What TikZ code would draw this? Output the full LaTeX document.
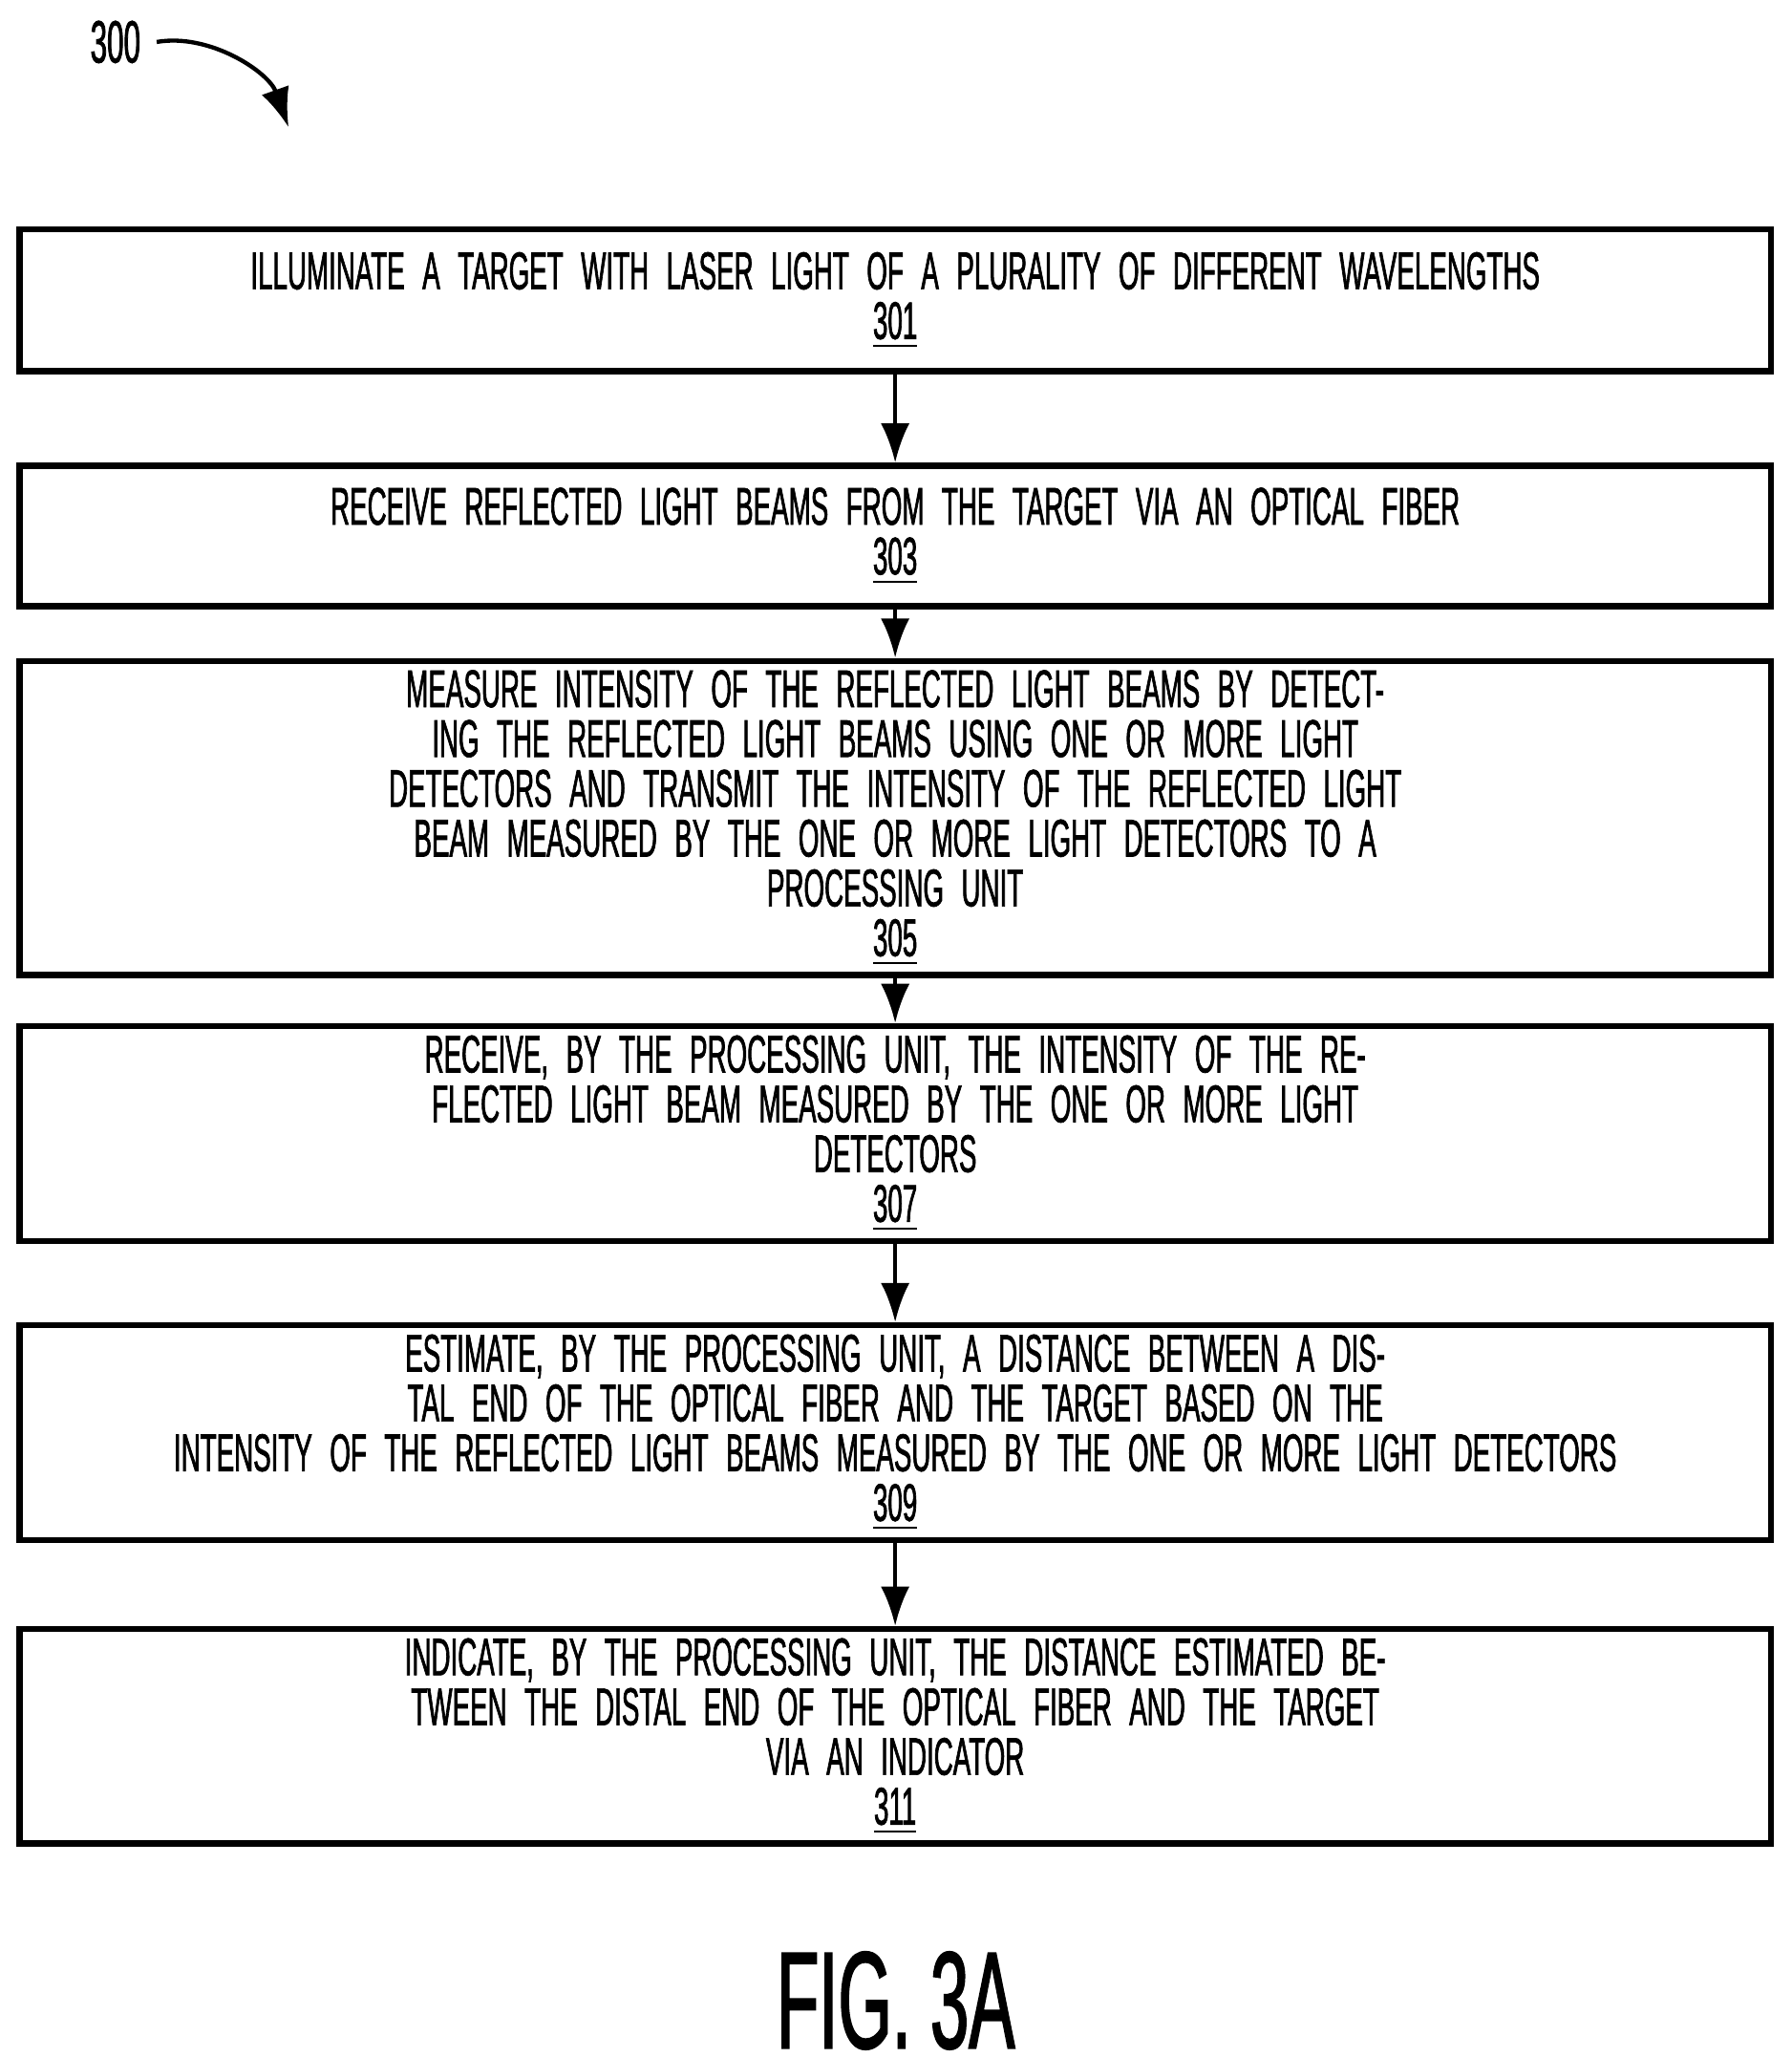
\documentclass[tikz,border=0pt]{standalone}
\usepackage{fontspec}
\setmainfont{Liberation Sans}[FakeStretch=0.5, FakeBold=1.2]
\usetikzlibrary{arrows.meta, positioning}

\begin{document}
\begin{tikzpicture}[
  >=Latex,
  font=\fontsize{11.5}{10.8}\selectfont,
  stepbox/.style={
    rectangle, draw, line width=1.3pt, align=center,
    text width=13.1cm, minimum width=13.35cm, inner sep=2pt
  },
  flow/.style={->, line width=0.9pt, >={Latex[length=3mm,width=2.2mm]}},
]
\useasboundingbox (0,0) rectangle (13.66,-15.68);

% --- reference label ---
\node (REF) at (0.88,-0.32) {\fontsize{13}{14}\selectfont 300};
\coordinate (REFEND) at (2.2,-0.97);
\draw[flow] (REF.east) .. controls (1.6,-0.25) and (2.05,-0.55) .. (REFEND);

% --- steps ---
\node[stepbox, minimum height=1.08cm] (S301) at (6.825,-2.29)
  {ILLUMINATE A TARGET WITH LASER LIGHT OF A PLURALITY OF DIFFERENT WAVELENGTHS\\ \underline{301}};
\node[stepbox, minimum height=1.07cm] (S303) at (6.825,-4.085)
  {RECEIVE REFLECTED LIGHT BEAMS FROM THE TARGET VIA AN OPTICAL FIBER\\ \underline{303}};
\node[stepbox, minimum height=1.87cm] (S305) at (6.825,-6.235)
  {MEASURE INTENSITY OF THE REFLECTED LIGHT BEAMS BY DETECTING THE REFLECTED LIGHT BEAMS USING ONE OR MORE LIGHT\\
   DETECTORS AND TRANSMIT THE INTENSITY OF THE REFLECTED LIGHT BEAM MEASURED BY THE ONE OR MORE LIGHT DETECTORS TO A\\
   PROCESSING UNIT\\ \underline{305}};
\node[stepbox, minimum height=1.56cm] (S307) at (6.825,-8.64)
  {RECEIVE, BY THE PROCESSING UNIT, THE INTENSITY OF THE REFLECTED LIGHT BEAM MEASURED BY THE ONE OR MORE LIGHT\\
   DETECTORS\\ \underline{307}};
\node[stepbox, minimum height=1.6cm] (S309) at (6.825,-10.92)
  {ESTIMATE, BY THE PROCESSING UNIT, A DISTANCE BETWEEN A DISTAL END OF THE OPTICAL FIBER AND THE TARGET BASED ON THE\\
   INTENSITY OF THE REFLECTED LIGHT BEAMS MEASURED BY THE ONE OR MORE LIGHT DETECTORS\\ \underline{309}};
\node[stepbox, minimum height=1.63cm] (S311) at (6.825,-13.235)
  {INDICATE, BY THE PROCESSING UNIT, THE DISTANCE ESTIMATED BETWEEN THE DISTAL END OF THE OPTICAL FIBER AND THE TARGET\\
   VIA AN INDICATOR\\ \underline{311}};

% --- caption ---
\node (FIG) at (6.83,-15.25) {\fontsize{30}{32}\selectfont FIG. 3A};

% --- arrows ---
\draw[flow] (S301) -- (S303);
\draw[flow] (S303) -- (S305);
\draw[flow] (S305) -- (S307);
\draw[flow] (S307) -- (S309);
\draw[flow] (S309) -- (S311);

\end{tikzpicture}
\end{document}
